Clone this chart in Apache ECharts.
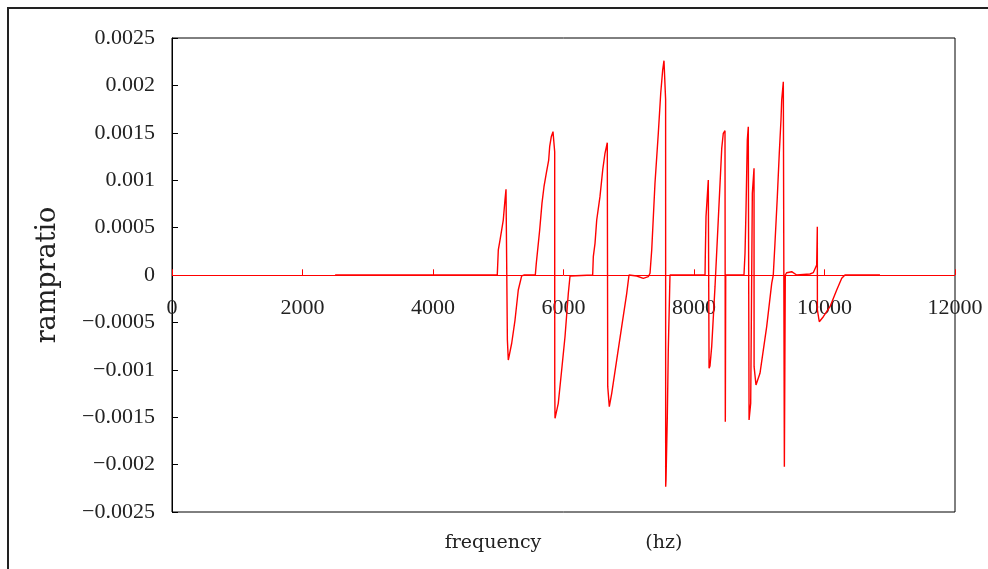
<!DOCTYPE html>
<html>
<head>
<meta charset="utf-8">
<script src="https://cdn.jsdelivr.net/npm/echarts@6/dist/echarts.min.js"></script>
<style>
html,body{margin:0;padding:0;background:#fff;}
#main{width:988px;height:569px;}
</style>
</head>
<body>
<div id="main"></div>
<script>
// frequency (hz)
var freqHz = [
	2500, 4985, 5001, 5027, 5077, 5103, 5119, 5139, 5140, 5154, 5206, 5257, 5307, 5359, 5400,
	5568, 5583, 5635, 5670, 5701, 5736, 5773, 5788, 5813, 5839, 5854, 5865, 5866, 5870, 5920, 5972, 6023, 6074, 6100,
	6447, 6457, 6483, 6509, 6559, 6601, 6636, 6671, 6677, 6678, 6702, 6739, 6815, 6892, 6969, 7004, 7122, 7223, 7300, 7326,
	7352, 7402, 7453, 7490, 7520, 7540, 7560, 7565, 7566, 7571, 7591, 7606, 7632, 7658, 7709,
	8169, 8173, 8184, 8219, 8230, 8231, 8245, 8271, 8322, 8372, 8425, 8449, 8475, 8480, 8486,
	8766, 8782, 8797, 8817, 8832, 8843, 8844, 8869, 8894, 8920, 8921, 8950, 9011, 9114, 9191, 9215,
	9241, 9277, 9307, 9333, 9344, 9369, 9384, 9385, 9399, 9421, 9497, 9574, 9778, 9828, 9854,
	9880, 9890, 9891, 9920, 9982, 10084, 10187, 10264, 10314, 10850
];
// ramp ratio
var rampRatio = [
	0, 0, 0.000264, 0.000369, 0.00058, 0.000791, 0.000904, 0.000904, -0.000686, -0.000897, -0.00072, -0.000475, -0.000158, -0.00001, 0,
	0, 0.000123, 0.000475, 0.000756, 0.000931, 0.001073, 0.001213, 0.001353, 0.001459, 0.001512, 0.00153, 0.0013, -0.00114, -0.001512, -0.001354, -0.001002, -0.000651, -0.000193, -0.00001,
	0, 0.000193, 0.000334, 0.00058, 0.000826, 0.001108, 0.001284, 0.001396, 0.0014, -0.001178, -0.001389, -0.001248, -0.000897, -0.000545, -0.000193, 0, -0.0000105, -0.0000348, -0.000018, 0.000018,
	0.000264, 0.000967, 0.001495, 0.001917, 0.002162, 0.002261, 0.002261, 0.00185, -0.002233, -0.002162, -0.001495, -0.000791, 0, 0.0000105, 0,
	0, 0.000193, 0.000615, 0.001002, 0.001002, -0.000984, -0.00096, -0.000756, -0.000123, 0.00058, 0.001336, 0.001495, 0.001522, -0.001547, 0,
	0, 0.000232, 0.000686, 0.001424, 0.001564, 0.001564, -0.00153, -0.001353, 0.000862, 0.001126, -0.000967, -0.00116, -0.001037, -0.000545, -0.0000876, 0,
	0.000334, 0.000826, 0.001284, 0.001635, 0.001846, 0.002039, 0.002039, -0.002022, 0, 0.0000243, 0.0000348, 0, 0.0000105, 0.0000243, 0.000018,
	0.000105, 0.00051, -0.000369, -0.000493, -0.00044, -0.000334, -0.000158, -0.0000348, 0, 0
];
var xTicks = [0, 2000, 4000, 6000, 8000, 10000, 12000];
var yTicks = [-0.0025, -0.002, -0.0015, -0.001, -0.0005, 0, 0.0005, 0.001, 0.0015, 0.002, 0.0025];

window.onload=function(){
	var myChart = echarts.init(document.getElementById('main'));
	var pts = [];
	for (var i = 0; i < freqHz.length; i++) {
		pts.push([freqHz[i], rampRatio[i]]);
	}
	// red zero line with small upward ticks (the x axis sits on zero)
	var zeroMarks = [[{coord: [xTicks[0], 0]}, {coord: [xTicks[xTicks.length - 1], 0]}]];
	for (var j = 0; j < xTicks.length; j++) {
		zeroMarks.push([{coord: [xTicks[j], 0]}, {coord: [xTicks[j], 0.00006]}]);
	}
	var option = {
		animation: false,
		backgroundColor: '#fff',
		grid: {
			left: 172,
			right: 33,
			top: 38,
			bottom: 57,
			outerBoundsMode: 'none',
			containLabel: false,
			show: true,
			borderColor: '#000',
			borderWidth: 1
		},
		graphic: [{
			type: 'rect',
			shape: {x: 8, y: 8, width: 1000, height: 600},
			style: {fill: 'none', stroke: '#222', lineWidth: 2}
		}],
		xAxis: {
			type: 'value',
			min: xTicks[0],
			max: xTicks[xTicks.length - 1],
			interval: xTicks[1] - xTicks[0],
			axisLine: {show: false, onZero: false},
			axisTick: {show: false},
			splitLine: {show: false},
			// labels sit just under the zero line
			axisLabel: {
				margin: -215,
				color: '#222',
				fontFamily: 'Liberation Serif',
				fontSize: 22,
				formatter: function (v) { return String(v); }
			},
			name: '{a|frequency}{b|(hz)}',
			nameLocation: 'middle',
			nameGap: 22,
			nameTextStyle: {
				rich: {
					a: {fontFamily: 'DejaVu Serif', fontSize: 19, color: '#222', padding: [0, 104, 0, 0]},
					b: {fontFamily: 'DejaVu Serif', fontSize: 19, color: '#222'}
				}
			}
		},
		yAxis: {
			type: 'value',
			min: yTicks[0],
			max: yTicks[yTicks.length - 1],
			interval: yTicks[1] - yTicks[0],
			axisLine: {show: true, onZero: false, lineStyle: {color: '#000', width: 1}},
			axisTick: {show: true, inside: true, length: 6, lineStyle: {color: '#000'}},
			splitLine: {show: false},
			axisLabel: {
				margin: 17,
				color: '#222',
				fontFamily: 'Liberation Serif',
				fontSize: 22,
				formatter: function (v) {
					var s = String(+v.toFixed(4));
					return v < 0 ? '\u2212' + s.slice(1) : s;
				}
			},
			name: 'rampratio',
			nameLocation: 'middle',
			nameGap: 111,
			nameTextStyle: {fontFamily: 'DejaVu Serif', fontSize: 27, color: '#222'}
		},
		series: [{
			name: 'rampratio',
			type: 'line',
			data: pts,
			showSymbol: false,
			symbol: 'none',
			lineStyle: {color: '#ff0000', width: 1.4},
			itemStyle: {color: '#ff0000'},
			markLine: {
				silent: true,
				precision: 6,
				symbol: 'none',
				label: {show: false},
				lineStyle: {color: '#ff0000', width: 1, type: 'solid'},
				emphasis: {disabled: true},
				data: zeroMarks
			}
		}]
	};
	myChart.setOption(option);
};
</script>
</body>
</html>
